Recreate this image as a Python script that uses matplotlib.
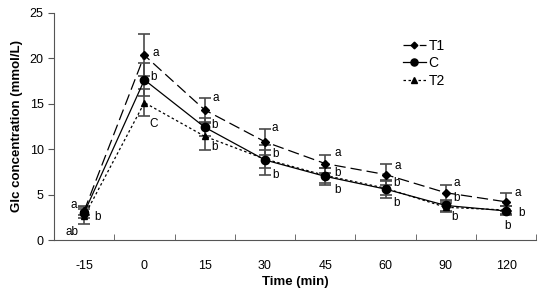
import matplotlib
matplotlib.use("Agg")
import matplotlib.pyplot as plt

plt.rcParams["font.family"] = ["Liberation Sans", "DejaVu Sans"]

times = ["-15", "0", "15", "30", "45", "60", "90", "120"]
t1 = [3.2, 20.3, 14.3, 10.8, 8.4, 7.2, 5.2, 4.2]
t1_err = [0.5, 2.3, 1.3, 1.4, 1.0, 1.2, 0.9, 1.0]
c = [3.0, 17.6, 12.4, 8.8, 7.0, 5.6, 3.8, 3.2]
c_err = [0.6, 1.8, 1.0, 1.6, 0.9, 1.0, 0.6, 0.5]
t2 = [2.6, 15.1, 11.4, 8.9, 7.1, 5.7, 3.6, 3.3]
t2_err = [0.8, 1.5, 1.5, 1.0, 0.8, 0.8, 0.5, 0.4]

# significance letters: (category index offset, y value, text)
letters = [
    (-0.18, 3.8, "a"), (0.23, 2.5, "b"), (-0.2, 0.9, "ab"),
    (1.18, 20.6, "a"), (1.15, 17.9, "b"), (1.16, 12.8, "C"),
    (2.19, 15.6, "a"), (2.16, 12.6, "b"), (2.16, 10.2, "b"),
    (3.17, 12.3, "a"), (3.17, 9.5, "b"), (3.17, 7.1, "b"),
    (4.2, 9.6, "a"), (4.2, 7.4, "b"), (4.2, 5.5, "b"),
    (5.2, 8.1, "a"), (5.18, 6.3, "b"), (5.18, 4.1, "b"),
    (6.18, 6.3, "a"), (6.18, 4.6, "b"), (6.15, 2.5, "b"),
    (7.19, 5.2, "a"), (7.26, 3.0, "b"), (7.03, 1.6, "b"),
]

x = list(range(len(times)))
fig = plt.figure(figsize=(5.4, 2.91), dpi=100)
ax = fig.add_axes([0.1, 0.175, 0.893, 0.782])

ebc = "#4a4a4a"
series = [
    (t1, t1_err, "T1", (0, (9, 4)), "D", 4),
    (c, c_err, "C", "-", "o", 6),
    (t2, t2_err, "T2", (0, (2, 2)), "^", 5),
]
for vals, errs, name, ls, mk, ms in series:
    ax.errorbar(x, vals, yerr=errs, fmt="none", ecolor=ebc, elinewidth=1.2,
                capsize=4, capthick=1.2, zorder=2)
    ax.plot(x, vals, color="black", lw=0.9, ls=ls, marker=mk, ms=ms, label=name, zorder=3)

for xi, yi, s in letters:
    ax.text(xi, yi, s, ha="center", va="center", fontsize=8.5)

ax.set_xlim(-0.5, len(times) - 0.5)
ax.set_ylim(0, 25)
ax.set_yticks([0, 5, 10, 15, 20, 25])
ax.set_xticks(x)
ax.set_xticklabels(times)
ax.set_xticks([i + 0.5 for i in range(len(times))], minor=True)
ax.tick_params(axis="x", which="major", length=0, labelsize=9, pad=14)
ax.tick_params(axis="x", which="minor", direction="in", length=4, color="#555555")
ax.tick_params(axis="y", direction="out", length=4, labelsize=9, color="#555555")
for side in ["top", "right"]:
    ax.spines[side].set_visible(False)
for side in ["left", "bottom"]:
    ax.spines[side].set_color("#555555")
ax.set_xlabel("Time (min)", fontsize=9.5, fontweight="bold", labelpad=3)
ax.set_ylabel("Glc concentration (mmol/L)", fontsize=9.5, fontweight="bold", labelpad=5)

ax.legend(loc="upper left", bbox_to_anchor=(0.71, 0.915), frameon=False, fontsize=10,
          handlelength=1.6, handletextpad=0.2, labelspacing=0.25, borderpad=0,
          markerscale=0.85)

fig.savefig("out.png", dpi=100)
